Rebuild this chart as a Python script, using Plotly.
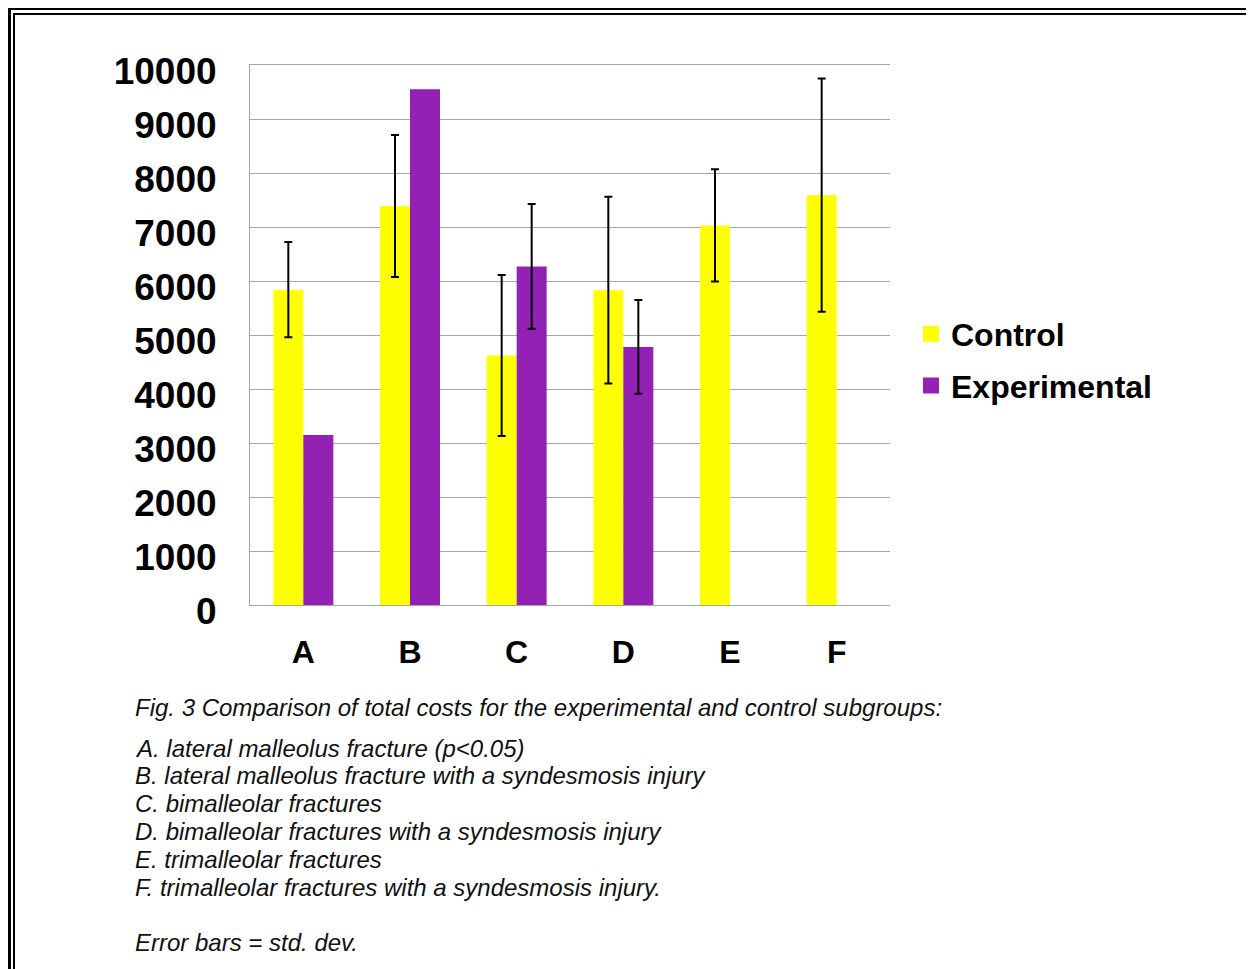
import plotly.graph_objects as go

categories = ["A", "B", "C", "D", "E", "F"]
control_mean = [5840, 7390, 4620, 5830, 7030, 7590]
control_sd = [880, 1315, 1490, 1730, 1040, 2160]
experimental_mean = [3150, 9550, 6270, 4780, None, None]
experimental_sd = [None, None, 1155, 870, None, None]
y_ticks = [0, 1000, 2000, 3000, 4000, 5000, 6000, 7000, 8000, 9000, 10000]

caption_title = "Fig. 3 Comparison of total costs for the experimental and control subgroups:"
caption_lines = [
    "A. lateral malleolus fracture (p<0.05)",
    "B. lateral malleolus fracture with a syndesmosis injury",
    "C. bimalleolar fractures",
    "D. bimalleolar fractures with a syndesmosis injury",
    "E. trimalleolar fractures",
    "F. trimalleolar fractures with a syndesmosis injury.",
    "",
    "Error bars = std. dev.",
]

YELLOW = "#FFFF00"
PURPLE = "#9321B3"

OFF = 8  # page body margin
WIN_W, WIN_H = 1254, 969
W, H = WIN_W - OFF, WIN_H - OFF
# plot area in window pixels: x 250..890, y 65..605
PX0, PX1, PY0, PY1 = 250, 890, 65, 605
L, T = PX0 - OFF, PY0 - OFF
PW, PH = PX1 - PX0, PY1 - PY0
R, B = W - L - PW, H - T - PH


def px_x(px):
    return (px - PX0) / PW


def px_y(py):
    return (PY1 - py) / PH


# plotly.js skips error bars whose value is not numeric ("NaN")
exp_err = [("NaN" if v is None else v) for v in experimental_sd]

fig = go.Figure()
fig.add_trace(go.Bar(
    x=categories, y=control_mean, name="Control",
    marker=dict(color=YELLOW, line=dict(width=0)),
    error_y=dict(type="data", array=control_sd, visible=True,
                 color="black", thickness=2, width=4),
    showlegend=False,
))
fig.add_trace(go.Bar(
    x=categories, y=experimental_mean, name="Experimental",
    marker=dict(color=PURPLE, line=dict(width=0)),
    error_y=dict(type="data", array=exp_err, visible=True,
                 color="black", thickness=2, width=4),
    showlegend=False,
))
# legend entries with larger square swatches
for nm, col, grp in [("Control", YELLOW, "c"), ("Experimental", PURPLE, "e")]:
    fig.add_trace(go.Scatter(
        x=[None], y=[None], mode="markers", name=nm, legendgroup=grp,
        marker=dict(symbol="square", size=19, color=col, line=dict(width=0)),
        showlegend=True,
    ))

fig.update_layout(
    width=W, height=H,
    margin=dict(l=L, r=R, t=T, b=B, autoexpand=False),
    paper_bgcolor="white", plot_bgcolor="white",
    barmode="group", bargap=0.4375, bargroupgap=0,
    font=dict(family="Liberation Sans, Arial, sans-serif", color="black"),
    legend=dict(
        x=px_x(911), y=px_y(360), xanchor="left", yanchor="middle",
        font=dict(family="Liberation Sans, Arial, sans-serif", size=32, weight="bold", color="black"),
        traceorder="grouped", tracegroupgap=7,
        bgcolor="rgba(0,0,0,0)", itemwidth=30,
    ),
    xaxis=dict(
        type="category", categoryorder="array", categoryarray=categories,
        showline=True, linecolor="#A6A6A6", linewidth=1, mirror=True,
        showgrid=False, ticks="", ticklabelstandoff=19,
        tickfont=dict(family="Liberation Sans, Arial, sans-serif", size=32, weight="bold", color="black"),
    ),
    yaxis=dict(
        range=[0, 10000], tickmode="array", tickvals=y_ticks,
        ticktext=[str(v) for v in y_ticks],
        showline=True, linecolor="#A6A6A6", linewidth=1,
        showgrid=True, gridcolor="#A6A6A6", gridwidth=1,
        zeroline=False, ticks="", ticklabelstandoff=25, ticklabelshift=6,
        tickfont=dict(family="Liberation Sans Narrow, Arial Narrow, Noto Sans Condensed, Liberation Sans, sans-serif",
                      size=37, weight="bold", color="black"),
    ),
)

# double frame around the figure
fig.add_shape(type="rect", xref="paper", yref="paper",
              x0=px_x(9.5), x1=px_x(1300), y0=px_y(8.5), y1=px_y(1000),
              line=dict(color="black", width=3), fillcolor="rgba(0,0,0,0)", layer="above")
fig.add_shape(type="rect", xref="paper", yref="paper",
              x0=px_x(14), x1=px_x(1300), y0=px_y(14), y1=px_y(1000),
              line=dict(color="black", width=2), fillcolor="rgba(0,0,0,0)", layer="above")

cap_font = dict(family="Liberation Sans, Arial, sans-serif", size=24, color="#111111", style="italic")
fig.add_annotation(
    xref="paper", yref="paper", x=px_x(133), y=px_y(707),
    xanchor="left", yanchor="middle", showarrow=False, align="left",
    text=caption_title, font=cap_font,
)
for i, line in enumerate(caption_lines):
    if not line:
        continue
    fig.add_annotation(
        xref="paper", yref="paper", x=px_x(133), y=px_y(748 + i * 27.8),
        xanchor="left", yanchor="middle", showarrow=False, align="left",
        text=line, font=cap_font,
    )

fig.write_html("out.html")
